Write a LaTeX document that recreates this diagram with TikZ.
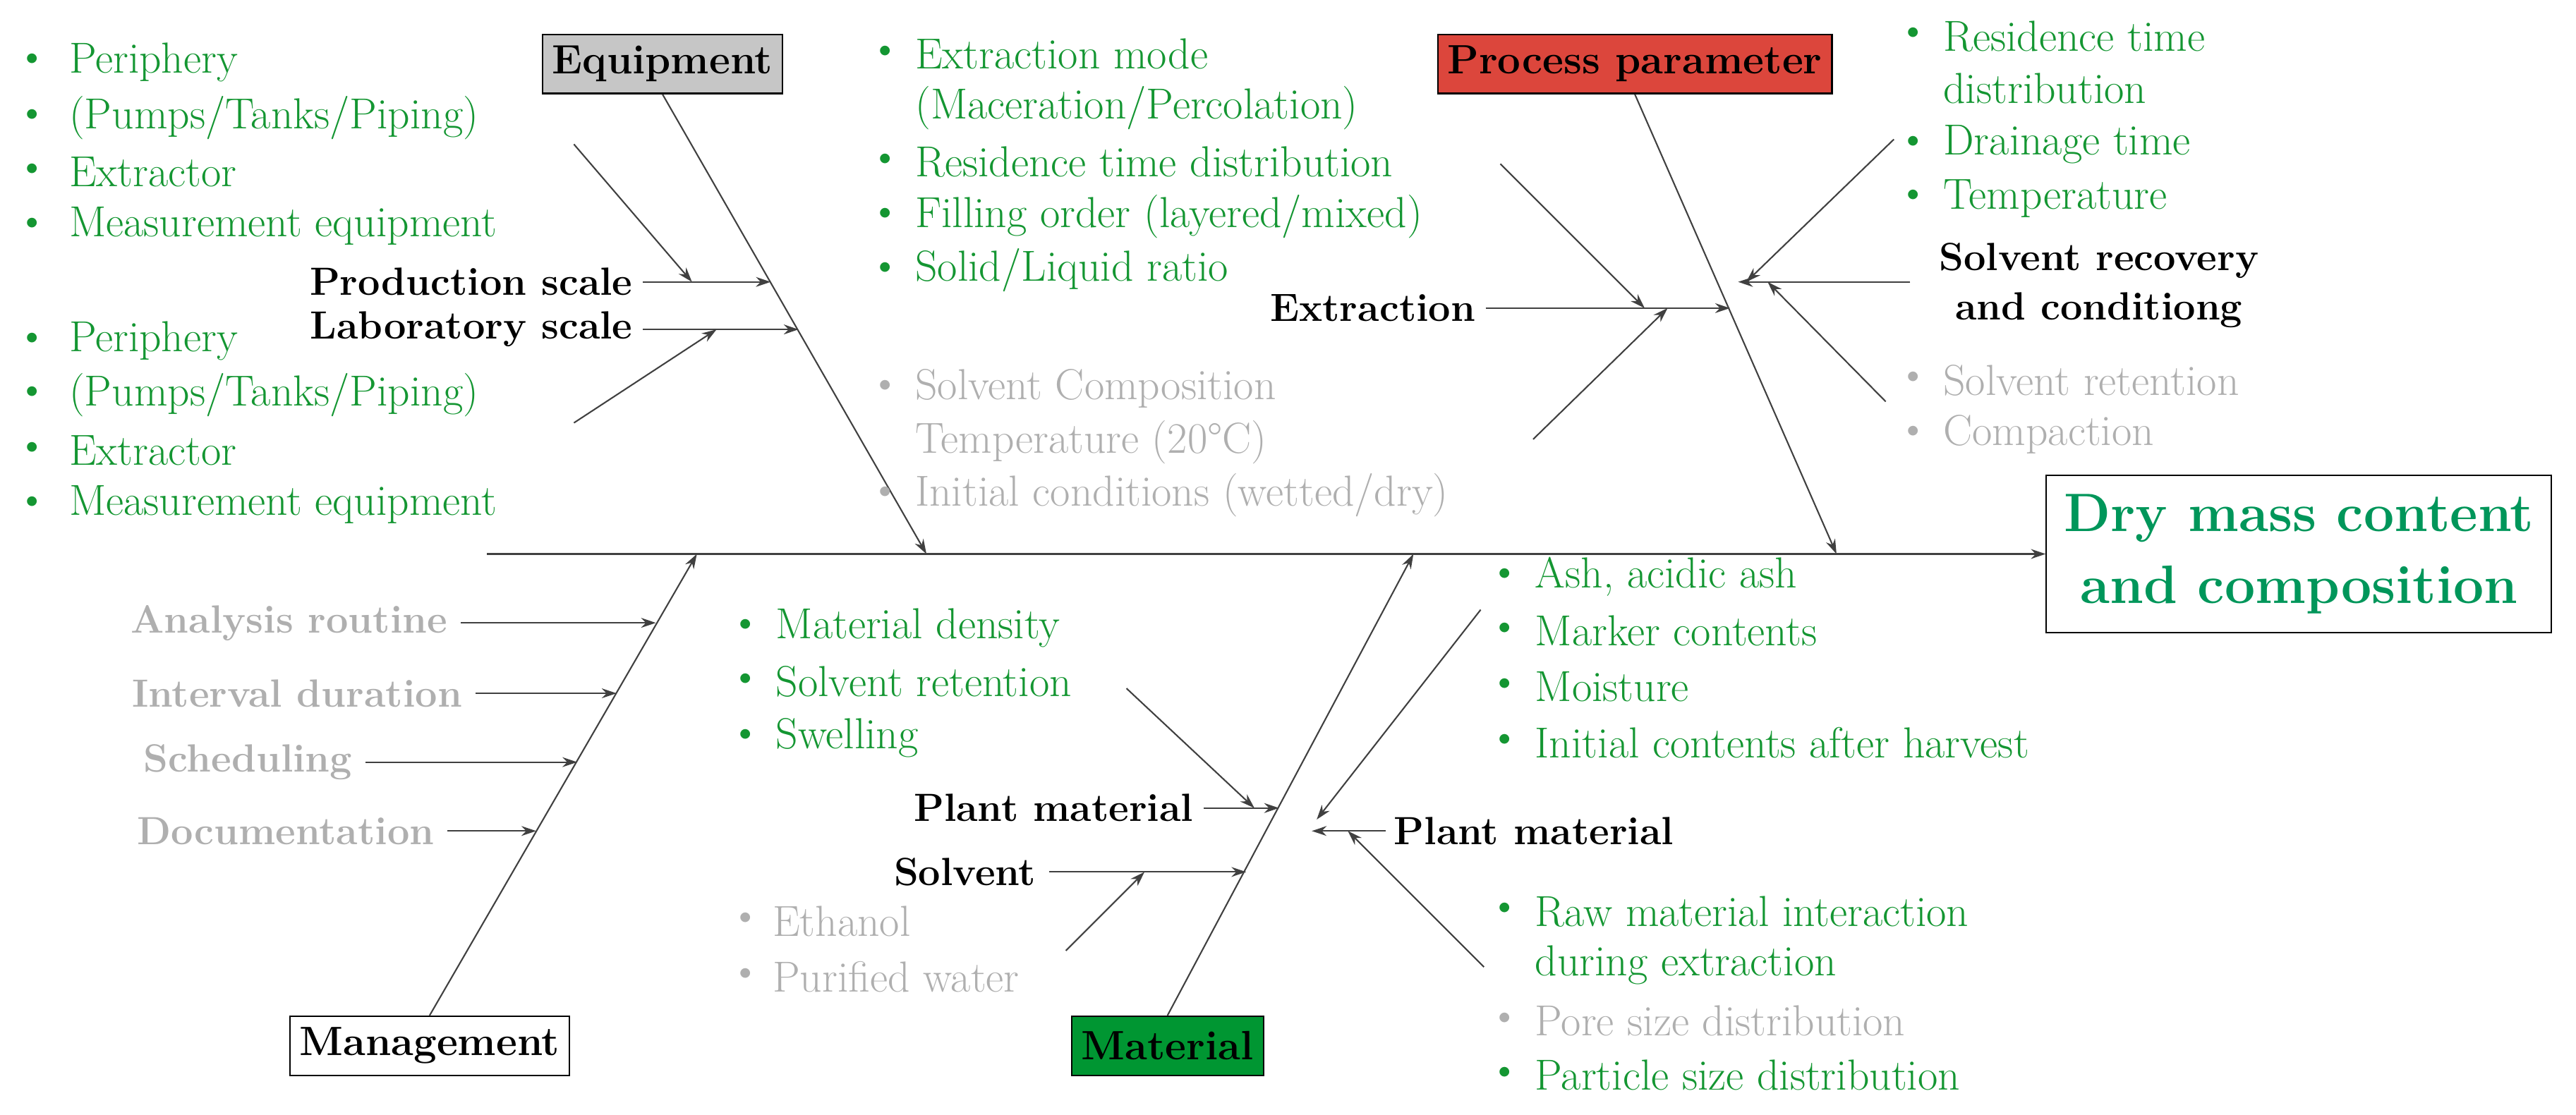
\documentclass[tikz,border=0pt]{standalone}
\usepackage{fontspec}
\setmainfont{Latin Modern Roman}
\usetikzlibrary{arrows.meta}
\definecolor{gr}{RGB}{20,150,50}
\definecolor{gy}{RGB}{175,175,175}
\definecolor{dm}{RGB}{0,150,90}
\definecolor{rd}{RGB}{220,70,60}
\definecolor{mg}{RGB}{0,150,50}
\begin{document}
\begin{tikzpicture}[x=1pt,y=-1pt,
  every node/.style={font=\fontsize{26.5}{30}\selectfont, inner sep=0pt},
  ln/.style={draw=black!75, line width=0.9pt},
  ar/.style={ln,-{Stealth[length=9pt,width=6pt]}},
  box/.style={draw=black, line width=0.9pt, font=\fontsize{25}{30}\selectfont\bfseries, minimum height=36pt, inner xsep=6pt},
  bl/.style={anchor=west, font=\fontsize{26.5}{30}\selectfont},
  lab/.style={font=\fontsize{24}{30}\selectfont\bfseries}]
\useasboundingbox (0,0) rectangle (1571,680);
% boxes
\node[box, fill=gray!45] (eq) at (404,39) {Equipment};
\node[box, fill=rd] (pp) at (997,39) {Process parameter};
\node[box, fill=white] (mg) at (262,638) {Management};
\node[box, fill=mg] (ma) at (712,638) {Material};
\node[draw=black, line width=0.9pt, text=dm, font=\fontsize{33}{44}\selectfont\bfseries, align=center, minimum width=308pt, minimum height=96pt] (dmc) at (1402,338) {Dry mass content\\and composition};
% spine
\coordinate (s0) at (297,338);
\draw[ar] (s0) -- (dmc.west);
\coordinate (e1) at (565,338);\coordinate (p1) at (1120,338);
\coordinate (m1) at (425,338);\coordinate (a1) at (862,338);
\draw[ar] (eq.south) -- (e1);
\draw[ar] (pp.south) -- (p1);
\draw[ar] (mg.north) -- (m1);
\draw[ar] (ma.north) -- (a1);
% Equipment
\node[lab, anchor=east] (prs) at (386,172) {Production scale};
\node[lab, anchor=east] (lbs) at (386,201) {Laboratory scale};
\coordinate (q1) at (470,172); \coordinate (q2) at (487,201);
\draw[ar] (392,172) coordinate (q1s) -- (q1);
\draw[ar] (392,201) coordinate (q2s) -- (q2);
\coordinate (q3s) at (350,88); \coordinate (q3) at (422,172);
\coordinate (q4s) at (350,258); \coordinate (q4) at (437,201);
\draw[ar] (q3s) -- (q3); \draw[ar] (q4s) -- (q4);
\foreach \t/\y [count=\i] in {Periphery/38,{(Pumps/Tanks/Piping)}/72,Extractor/105,Measurement equipment/138,Periphery/208,{(Pumps/Tanks/Piping)}/241,Extractor/275,Measurement equipment/308}{
  \node[bl,text=gr] (eb\i) at (10,\y) {•}; \node[bl,text=gr] (et\i) at (42,\y) {\t};}
% Middle list
\foreach \t/\y [count=\i] in {Extraction mode/33,{(Maceration/Percolation)}/66,Residence time distribution/99,{Filling order (layered/mixed)}/132,{Solid/Liquid ratio}/165}{
  \node[bl,text=gr] (mt\i) at (558,\y) {\t};}
\foreach \y [count=\i] in {33,99,132,165}{\node[bl,text=gr] (mb\i) at (530,\y) {•};}
\node[bl,text=gy] (gb1) at (530,237) {•}; \node[bl,text=gy] (gt1) at (558,237) {Solvent Composition};
\node[bl,text=gy] (gt2) at (558,270) {Temperature (20°C)};
\node[bl,text=gy] (gb3) at (530,302) {•}; \node[bl,text=gy] (gt3) at (558,302) {Initial conditions (wetted/dry)};
% Extraction
\node[lab, anchor=east] (ex) at (900,188) {Extraction};
\coordinate (x0) at (906,188); \coordinate (x1) at (1055,188);
\draw[ar] (x0) -- (x1);
\coordinate (x2s) at (915,100); \coordinate (x2) at (1003,188);
\coordinate (x3s) at (935,268); \coordinate (x3) at (1017,188);
\draw[ar] (x2s) -- (x2); \draw[ar] (x3s) -- (x3);
% Solvent recovery
\node[lab, align=center] (sr) at (1280,174) {Solvent recovery\\and conditiong};
\coordinate (r0) at (1165,172); \coordinate (r1) at (1060,172);
\draw[ar] (r0) -- (r1);
\coordinate (r2s) at (1155,85); \coordinate (r2) at (1065,172);
\coordinate (r3s) at (1150,245); \coordinate (r3) at (1078,172);
\draw[ar] (r2s) -- (r2); \draw[ar] (r3s) -- (r3);
\foreach \t/\y [count=\i] in {Residence time/22,distribution/54,Drainage time/88,Temperature/121}{
  \node[bl,text=gr] (rt\i) at (1185,\y) {\t};}
\foreach \y [count=\i] in {22,88,121}{\node[bl,text=gr] (rb\i) at (1157,\y) {•};}
\node[bl,text=gy] (rg1) at (1157,232) {•}; \node[bl,text=gy] (rg2) at (1185,232) {Solvent retention};
\node[bl,text=gy] (rg3) at (1157,265) {•}; \node[bl,text=gy] (rg4) at (1185,265) {Compaction};
% Management
\node[lab, text=gy, anchor=east] (an) at (273,380) {Analysis routine};
\node[lab, text=gy, anchor=east] (iv) at (282,423) {Interval duration};
\node[lab, text=gy, anchor=east] (sc) at (215,465) {Scheduling};
\node[lab, text=gy, anchor=east] (dc) at (265,507) {Documentation};
\coordinate (n1) at (400,380); \coordinate (n2) at (376,423);
\coordinate (n3) at (352,465); \coordinate (n4) at (327,507);
\draw[ar] ([xshift=8pt]an.east) -- (n1);
\draw[ar] ([xshift=8pt]iv.east) -- (n2);
\draw[ar] ([xshift=8pt]sc.east) -- (n3);
\draw[ar] ([xshift=8pt]dc.east) -- (n4);
% Material left
\foreach \t/\y [count=\i] in {Material density/383,Solvent retention/416,Swelling/450}{
  \node[bl,text=gr] (lb\i) at (445,\y) {•}; \node[bl,text=gr] (lt\i) at (473,\y) {\t};}
\node[lab, anchor=east] (pl1) at (728,493) {Plant material};
\node[lab, anchor=east] (sv) at (632,532) {Solvent};
\coordinate (t1) at (780,493); \coordinate (t2) at (760,532);
\draw[ar] ([xshift=6pt]pl1.east) -- (t1);
\draw[ar] ([xshift=8pt]sv.east) -- (t2);
\coordinate (t3s) at (687,420); \coordinate (t3) at (765,493);
\coordinate (t4s) at (650,580); \coordinate (t4) at (698,532);
\draw[ar] (t3s) -- (t3); \draw[ar] (t4s) -- (t4);
\foreach \t/\y [count=\i] in {Ethanol/562,Purified water/596}{
  \node[bl,text=gy] (sb\i) at (445,\y) {•}; \node[bl,text=gy] (st\i) at (471,\y) {\t};}
% Material right
\node[lab, anchor=west] (pl2) at (850,507) {Plant material};
\coordinate (u0) at (845,507); \coordinate (u1) at (800,507);
\draw[ar] (u0) -- (u1);
\coordinate (u2s) at (903,372); \coordinate (u2) at (803,500);
\coordinate (u3s) at (905,590); \coordinate (u3) at (822,507);
\draw[ar] (u2s) -- (u2); \draw[ar] (u3s) -- (u3);
\foreach \t/\y [count=\i] in {{Ash, acidic ash}/352,Marker contents/385,Moisture/419,Initial contents after harvest/453}{
  \node[bl,text=gr] (wb\i) at (908,\y) {•}; \node[bl,text=gr] (wt\i) at (936,\y) {\t};}
\node[bl,text=gr] (zb1) at (908,556) {•}; \node[bl,text=gr] (zt1) at (936,556) {Raw material interaction};
\node[bl,text=gr] (zt2) at (936,589) {during extraction};
\node[bl,text=gy] (zb3) at (908,623) {•}; \node[bl,text=gy] (zt3) at (936,623) {Pore size distribution};
\node[bl,text=gr] (zb4) at (908,656) {•}; \node[bl,text=gr] (zt4) at (936,656) {Particle size distribution};
\end{tikzpicture}
\end{document}
